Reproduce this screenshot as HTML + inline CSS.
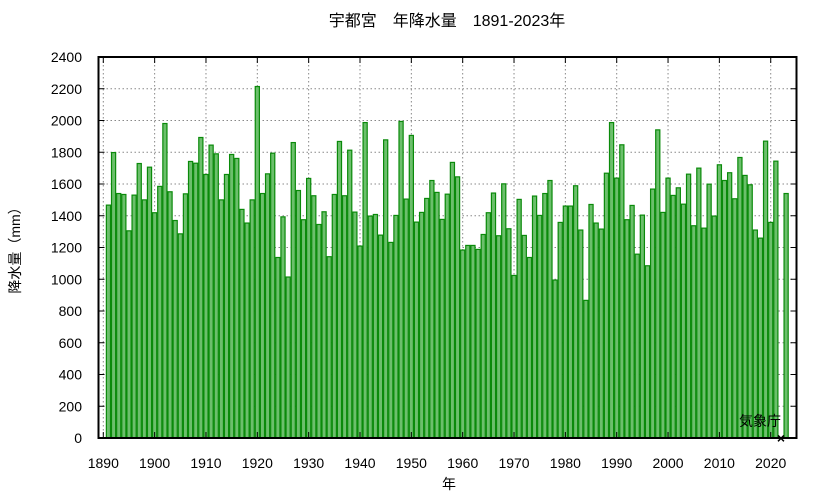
<!DOCTYPE html>
<html><head><meta charset="utf-8"><style>
body{margin:0;background:#fff;}
svg{display:block;font-family:"Liberation Sans","Noto Sans CJK JP",sans-serif;}
</style></head><body>
<svg id="chart" width="833" height="498" viewBox="0 0 833 498" xmlns="http://www.w3.org/2000/svg">
<text x="447" y="26" font-size="16" text-anchor="middle">宇都宮　年降水量　1891-2023年</text>
<text transform="translate(20,247) rotate(-90)" font-size="14" text-anchor="middle">降水量（mm）</text>
<text x="449" y="489" font-size="14" text-anchor="middle">年</text>
<g id="grid"></g><g id="bars"></g><g id="axes"></g>
<text x="760" y="426" font-size="14" text-anchor="middle">気象庁</text>
</svg>
<script>
const startYear = 1891;
const rainfall = [1467,1798,1540,1534,1305,1530,1729,1500,1706,1419,
1585,1981,1551,1370,1286,1538,1742,1731,1893,1660,
1845,1790,1500,1660,1786,1761,1440,1354,1500,2214,
1540,1664,1794,1137,1393,1014,1861,1559,1375,1635,
1526,1345,1425,1142,1534,1868,1526,1813,1423,1209,
1987,1398,1408,1278,1878,1232,1402,1994,1505,1906,
1360,1421,1509,1622,1547,1377,1536,1736,1645,1184,
1213,1213,1188,1282,1419,1543,1274,1601,1318,1024,
1503,1276,1137,1524,1402,1540,1622,995,1358,1461,
1461,1589,1310,867,1471,1354,1316,1668,1987,1637,
1847,1375,1465,1158,1404,1085,1568,1941,1421,1637,
1528,1576,1473,1662,1337,1700,1322,1599,1398,1721,
1622,1671,1507,1767,1654,1595,1310,1259,1870,1358,
1744,null,1540];
const yTicks = [0,200,400,600,800,1000,1200,1400,1600,1800,2000,2200,2400];
const xTicks = [1890,1900,1910,1920,1930,1940,1950,1960,1970,1980,1990,2000,2010,2020];
const L=98.5,R=796.5,T=57,B=438;
const xs = y => 103.3 + (y-1890)*5.134;
const ys = v => B - v*(B-T)/2400;
const NS="http://www.w3.org/2000/svg";
function mk(tag,attrs,parent){const e=document.createElementNS(NS,tag);for(const k in attrs)e.setAttribute(k,attrs[k]);parent.appendChild(e);return e;}
const grid=document.getElementById('grid'),bars=document.getElementById('bars'),axes=document.getElementById('axes');
yTicks.forEach(v=>{
 if(v>0&&v<2400){const g=mk('line',{x1:L,x2:R,y1:ys(v),y2:ys(v),stroke:'#888','stroke-dasharray':'1.5,2.5','stroke-width':1},grid);
 
 }
 const t=mk('text',{x:82,y:ys(v)+5,'font-size':14,'text-anchor':'end'},axes);t.textContent=v;
 
 
 mk('line',{x1:L,x2:L+6,y1:ys(v),y2:ys(v),stroke:'#000'},axes);
 mk('line',{x1:R,x2:R-6,y1:ys(v),y2:ys(v),stroke:'#000'},axes);
});
xTicks.forEach(y=>{
 const g=mk('line',{x1:xs(y),x2:xs(y),y1:T,y2:B,stroke:'#888','stroke-dasharray':'1.5,2.5','stroke-width':1},grid);
 
 
 const t=mk('text',{x:xs(y),y:468,'font-size':14,'text-anchor':'middle'},axes);t.textContent=y;
 
 
 mk('line',{x1:xs(y),x2:xs(y),y1:B,y2:B-6,stroke:'#000'},axes);
 mk('line',{x1:xs(y),x2:xs(y),y1:T,y2:T+6,stroke:'#000'},axes);
});
const w=5.134;
rainfall.forEach((v,i)=>{
 const yr=startYear+i;
 if(v===null){
  const m=mk('text',{x:xs(yr),y:B+5,'font-size':14,'text-anchor':'middle','font-weight':'bold'},axes);m.textContent='×';
  
  
  return;}
 const r=mk('rect',{x:xs(yr)-w/2+0.5,y:ys(v),width:w-1,height:B-ys(v),fill:'#6cbf6c',stroke:'#0a8a0a','stroke-width':1.2},bars);
 
 
});
const f=mk('rect',{x:L,y:T,width:R-L,height:B-T,fill:'none',stroke:'#000','stroke-width':2},axes);


</script>
</body></html>
